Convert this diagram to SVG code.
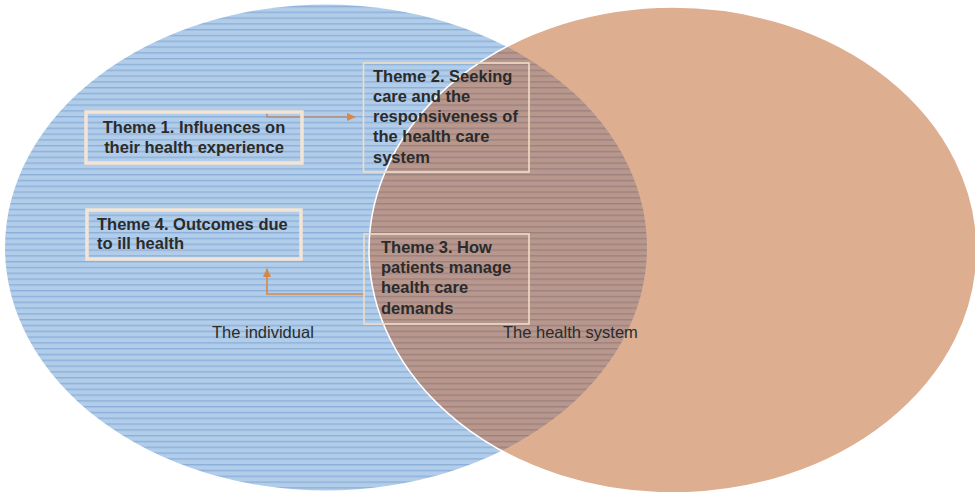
<svg xmlns="http://www.w3.org/2000/svg" width="975" height="492" viewBox="0 0 975 492">
  <style>
    .t { font-family: "Liberation Sans", Arial, sans-serif; font-size: 16.5px; fill: #2b2b2b; }
    .b { font-weight: bold; }
    .thick { fill: none; stroke: #F4E4D4; stroke-width: 3.5; }
    .thin { fill: none; stroke: #F1DCC6; stroke-width: 1.6; }
    .conn { fill: none; stroke-width: 1.6; }
  </style>
  <defs>
    <pattern id="blueStripes" patternUnits="userSpaceOnUse" x="0" y="0" width="10" height="5.8">
      <rect width="10" height="5.8" fill="#B1CDE9"/>
      <rect y="0" width="10" height="1.4" fill="#8DB0DA"/>
    </pattern>
    <pattern id="brownStripes" patternUnits="userSpaceOnUse" x="0" y="0" width="10" height="5.8">
      <rect width="10" height="5.8" fill="#B8978D"/>
      <rect y="0" width="10" height="1.4" fill="#9D8180"/>
    </pattern>
    <clipPath id="orangeClip">
      <ellipse cx="673" cy="250" rx="304" ry="243"/>
    </clipPath>
    <marker id="arrowR" markerWidth="9" markerHeight="8" refX="8" refY="4" orient="auto" markerUnits="userSpaceOnUse">
      <path d="M0,0 L9,4 L0,8 Z" fill="#D98744"/>
    </marker>
    <marker id="arrowU" markerWidth="9" markerHeight="8" refX="8" refY="4" orient="auto" markerUnits="userSpaceOnUse">
      <path d="M0,0 L9,4 L0,8 Z" fill="#D98744"/>
    </marker>
  </defs>

  <rect width="975" height="492" fill="#ffffff"/>

  <g id="circle-individual">
    <ellipse cx="326" cy="247.5" rx="321" ry="243" fill="url(#blueStripes)"/>
  </g>
  <g id="circle-health-system">
    <ellipse cx="673" cy="250" rx="304" ry="243" fill="#DEAE90"/>
    <ellipse cx="326" cy="247.5" rx="321" ry="243" fill="url(#brownStripes)" clip-path="url(#orangeClip)"/>
    <ellipse cx="673" cy="250" rx="304" ry="243" fill="none" stroke="#ffffff" stroke-width="1.5"/>
  </g>

  <g id="connectors">
    <path class="conn" d="M267,113 L267,117 L355,117" stroke="#B98E7A" marker-end="url(#arrowR)"/>
    <path class="conn" d="M364,294 L267,294 L267,269" stroke="#D98744" marker-end="url(#arrowU)"/>
  </g>

  <g id="theme1">
    <rect class="thick" x="86" y="112" width="216" height="51"/>
    <text class="t b" x="194" y="133" text-anchor="middle">Theme 1. Influences on</text>
    <text class="t b" x="194" y="153" text-anchor="middle">their health experience</text>
  </g>

  <g id="theme2">
    <rect class="thin" x="363.5" y="63" width="165.5" height="109"/>
    <text class="t b" x="373" y="82">Theme 2. Seeking</text>
    <text class="t b" x="373" y="102">care and the</text>
    <text class="t b" x="373" y="122">responsiveness of</text>
    <text class="t b" x="373" y="142">the health care</text>
    <text class="t b" x="373" y="163">system</text>
  </g>

  <g id="theme3">
    <rect class="thin" x="364" y="234" width="165" height="90"/>
    <text class="t b" x="381" y="253">Theme 3. How</text>
    <text class="t b" x="381" y="273">patients manage</text>
    <text class="t b" x="381" y="293">health care</text>
    <text class="t b" x="381" y="314">demands</text>
  </g>

  <g id="theme4">
    <rect class="thick" x="87" y="210" width="214" height="49"/>
    <text class="t b" x="97" y="230">Theme 4. Outcomes due</text>
    <text class="t b" x="97" y="249">to ill health</text>
  </g>

  <g id="label-individual">
    <text class="t" x="212" y="338">The individual</text>
  </g>
  <g id="label-health-system">
    <text class="t" x="503" y="338">The health system</text>
  </g>
</svg>
